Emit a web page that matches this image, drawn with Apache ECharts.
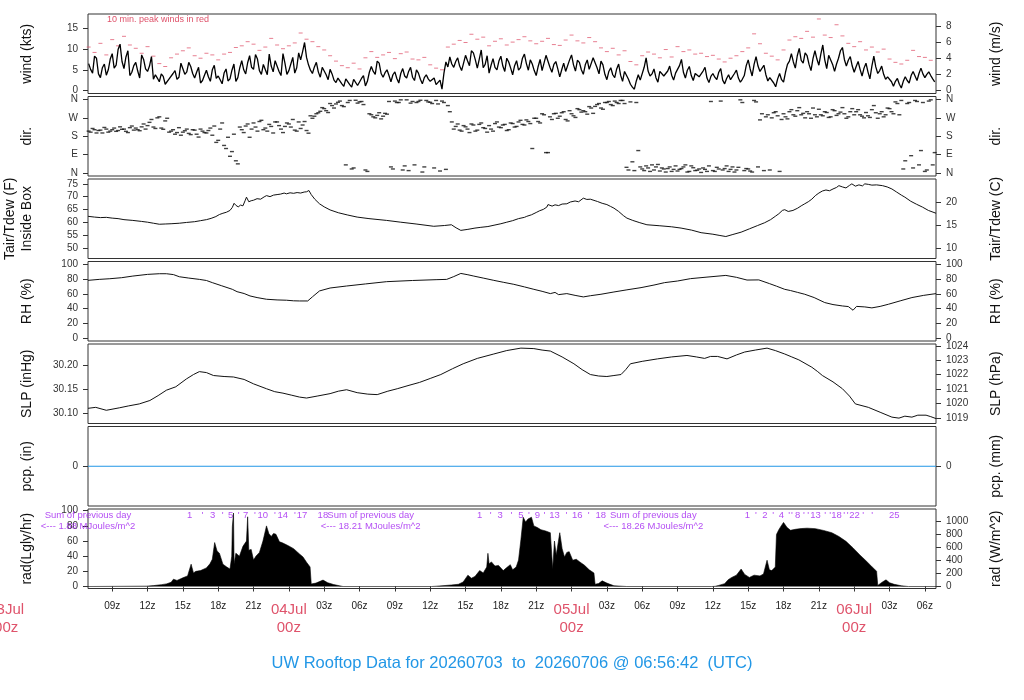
<!DOCTYPE html>
<html><head><meta charset="utf-8">
<script src="https://cdn.jsdelivr.net/npm/echarts@6/dist/echarts.min.js"></script>
<style>html,body{margin:0;padding:0;background:#fff}#c{width:1024px;height:700px}</style>
</head><body><div id="c"></div>
<script>
// ---- time frame (hours since 2026-07-03 00z) ----
const startHour = 6.945, endHour = 78.945;
const windStart = 7, windStep = 1/3, windMidOffset = 1/6;
const windKts = [
6.5,4.2,7.8, 3.1,6.4,5.0, 8.9,6.1,11.2, 5.3,9.6,4.4, 6.8,3.0,7.5, 4.6,8.2,3.8,
2.1,3.4,1.2, 2.6,4.8,3.2, 6.3,4.5,5.8, 3.0,5.6,2.4, 4.9,2.2,6.1, 3.5,1.6,5.2,
2.8,6.4,3.1, 7.2,4.0,8.4, 5.1,7.6,3.9, 6.0,8.8,4.5, 7.1,3.6,6.6, 4.8,8.0,5.5,
7.4,11.6,6.2, 4.1,6.8,3.2, 5.4,2.6,4.0, 1.9,3.3,1.0, 2.4,0.8,3.0, 1.5,3.6,2.2,
5.8,3.9,6.6, 3.2,5.0,2.1, 4.5,1.8,5.3, 3.0,5.6,2.4, 4.2,1.6,3.8, 2.2,3.0,1.1,
0.3,6.9,8.1, 5.6,7.9,4.8, 8.5,6.0,9.1, 5.4,9.8,6.3, 4.2,7.7,5.0, 8.3,4.6,6.9,
3.8,7.2,5.5, 8.8,4.9,6.4, 3.6,7.5,5.2, 8.1,4.4,7.0, 3.3,6.6,5.0, 8.6,4.7,6.8,
3.9,7.4,5.3, 8.3,4.0,6.2, 2.6,5.5,3.1, 6.4,2.2,4.6, 1.5,0.3,3.8, 2.4,7.9,3.5,
5.2,2.0,4.8, 3.1,5.9,2.5, 4.6,7.5,3.0, 5.8,2.4,4.4, 3.2,5.6,1.9, 4.1,2.6,5.3,
1.6,3.8,2.4, 4.9,2.0,3.6, 7.4,3.5,8.2, 4.6,6.1,2.3, 3.4,0.9,4.1, 2.0,6.3,8.9,
5.4,10.2,6.6, 8.4,4.8,9.6, 6.1,11.0,5.3, 8.7,4.6,7.8, 10.4,5.9,8.2, 4.4,7.0,3.5,
6.6,2.8,8.3, 4.1,5.9,2.7, 3.6,1.0,2.9, 0.6,3.3,1.8, 4.6,2.4,5.4, 3.1,4.5,2.8];
const windKtsMid = [
5.1,8.3,4.0, 5.5,3.7,7.6, 5.4,9.9,7.0, 8.1,3.6,6.0, 4.7,8.6,5.2, 5.9,2.7,3.0,
4.0,1.5,2.8, 4.1,2.7,6.6, 3.9,6.8,4.1, 4.4,1.8,3.7, 3.3,5.0,2.9, 2.6,4.2,2.3,
4.9,2.2,5.5, 5.0,6.7,5.6, 8.7,4.8,6.3, 3.8,5.9,7.2, 4.6,8.9,3.9, 6.4,4.2,9.1,
9.4,8.0,4.9, 5.7,4.5,5.6, 3.8,5.1,2.5, 3.0,1.6,2.8, 1.4,2.7,1.2, 2.9,1.1,4.4,
4.6,7.1,4.1, 4.3,3.6,3.8, 2.9,4.1,3.5, 4.6,3.2,5.0, 2.7,3.1,2.8, 1.8,1.4,2.5,
4.2,5.7,6.4, 7.0,5.9,6.6, 7.2,9.6,7.4, 7.6,5.5,8.4, 6.1,5.6,7.1, 5.9,7.8,5.4,
6.0,4.9,7.8, 6.5,7.4,4.8, 5.8,4.8,8.5, 5.6,6.3,5.2, 5.0,4.6,7.4, 6.2,7.3,5.0,
6.2,5.1,7.9, 5.5,7.1,3.9, 4.6,3.8,5.2, 3.7,4.6,2.7, 0.8,2.3,2.5, 5.6,4.7,4.0,
3.1,4.6,3.5, 4.7,3.7,4.2, 6.0,4.4,4.9, 3.6,4.1,3.3, 4.7,3.0,3.4, 3.2,4.4,2.5,
2.9,2.6,4.1, 3.0,2.7,6.0, 5.2,6.3,5.9, 5.0,3.8,3.1, 1.8,2.8,2.6, 4.4,7.1,6.9,
8.4,7.3,9.1, 6.3,7.7,7.6, 8.8,7.4,8.5, 6.3,6.4,9.6, 7.5,7.3,5.9, 5.8,5.1,5.4,
4.5,5.9,5.7, 4.8,3.9,3.3, 2.1,2.2,1.5, 2.2,2.4,3.6, 3.5,4.1,4.0, 3.9,3.6,2.1];
const gustStart = 7, gustStep = 0.5;
const gustKts = [
10.5,9.2, 11.4,8.6, 12.3,10.8, 13.1,11.0, 10.2,9.0, 10.6,8.3, 6.5,5.8, 7.9,8.8,
9.6,10.3, 8.4,7.8, 9.0,8.6, 7.4,8.8, 9.2,10.4, 10.8,11.8, 11.2,9.7, 10.5,12.6,
11.0,10.1, 10.8,11.5, 13.9,12.4, 11.8,10.6, 9.8,8.4, 7.1,6.0, 5.5,6.6, 5.2,7.9,
9.4,8.0, 8.6,9.2, 7.7,8.9, 9.3,7.6, 7.4,8.0, 6.2,5.4, 5.0,10.5, 11.2,12.1,
11.6,13.6, 12.4,12.9, 10.8,11.9, 12.5,11.0, 11.7,12.3, 13.0,12.0, 11.3,11.9, 12.6,11.1,
10.9,12.2, 13.4,12.0, 11.5,12.8, 11.8,10.3, 9.4,10.2, 8.6,9.6, 7.0,6.2, 8.4,9.3,
8.8,7.9, 9.9,8.1, 10.6,9.4, 9.8,8.8, 9.0,8.2, 8.5,7.6, 6.9,7.8, 8.4,9.4,
10.3,13.7, 11.3,9.0, 8.3,7.4, 9.8,12.2, 13.0,12.6, 14.3,12.9, 17.3,13.4, 12.8,15.9,
13.2,11.4, 10.6,11.8, 9.8,10.5, 9.3,10.0, 7.6,6.8, 6.4,7.3, 9.7,8.2, 8.0,7.3];
const dirDeg = [
205,218,196, 210,223,200, 212,204,226, 215,198,230, 220,207,240, 232,262,218,
275,214,268, 205,190,222, 200,215,188, 210,176,205, 196,220,230, 160,245,120,
82,190,45, 212,230,175, 245,205,258, 220,238,196, 250,215,228, 240,262,205,
218,252,195, 268,290,302, 315,296,330, 338,352,325, 345,20,356, 348,335,8,
285,270,295, 278,288,30, 352,345,15, 358,342,40, 350,5,355, 346,25,338,
352,18,300, 215,240,205, 226,198,235, 210,245,218, 232,205,250, 222,238,212,
242,228,258, 235,252,120, 268,245,285, 100,262,292, 278,300,255, 290,272,310,
305,288,318, 326,340,312, 345,335,352, 340,355,28, 348,12,110, 20,35,8,
15,42,25, 5,30,18, 10,22,40, 8,26,14, 3,18,35, 12,28,352,
22,8,30, 15,358,12, 20,5,348, 260,12,285, 270,300,8, 290,265,310,
278,320,292, 300,268,285, 312,280,296, 275,305,290, 320,268,300, 285,310,278,
296,272,330, 268,300,285, 315,290,340, 355,60,345, 25,350,110, 8,352,40];
const dirDegMid = [
200,212,208, 196,215,205, 220,208,214, 204,222,210, 212,226,215, 248,225,270,
220,255,200, 212,198,185, 207,194,212, 190,215,198, 208,185,150, 215,135,175,
105,60,225, 198,240,215, 225,252,212, 205,228,250, 232,198,245, 225,210,250,
235,208,280, 278,295,320, 305,340,318, 346,330,40, 355,25,342, 350,15,290,
275,282,265, 292,350,20, 345,358,35, 12,350,345, 356,30,348, 340,355,10,
345,330,250, 228,210,232, 215,240,205, 238,222,200, 215,242,225, 235,208,245,
225,250,238, 260,242,268, 252,290,100, 275,290,268, 295,262,305, 280,315,298,
300,325,292, 335,318,345, 350,330,345, 355,340,15, 55,345,30, 12,25,40,
30,10,20, 22,8,35, 18,30,5, 35,12,20, 25,8,350, 8,20,15,
35,18,5, 28,345,22, 10,355,30, 290,275,15, 295,280,262, 275,300,285,
305,285,270, 290,318,275, 285,300,272, 310,282,298, 290,275,315, 300,285,270,
280,310,295, 290,275,318, 300,348,285, 20,340,85, 355,40,345, 15,358,100];
const tairF = [[6.95,62.3],[7.5,62.0],[8,61.8],[8.5,61.9],[9,61.6],[9.5,61.4],[10,61.0],[10.75,60.7],[11.5,60.3],[12,60.0],[12.5,59.6],[13,59.2],[13.5,59.3],[14,59.4],[14.7,59.6],[15.3,59.9],[16,60.2],[16.5,60.6],[17,61.0],[17.4,61.5],[17.8,62.2],[18.1,63.0],[18.4,63.5],[18.7,63.9],[19.0,64.6],[19.2,65.8],[19.35,67.4],[19.5,66.6],[19.7,66.0],[19.9,66.7],[20.1,66.4],[20.3,68.6],[20.4,69.8],[20.6,68.0],[20.8,68.4],[21.0,68.6],[21.3,69.2],[21.6,69.0],[21.9,69.9],[22.1,70.4],[22.4,70.0],[22.7,70.6],[23.0,70.8],[23.3,71.0],[23.6,71.4],[23.8,71.1],[24.1,71.5],[24.4,71.3],[24.7,71.6],[25.0,71.4],[25.3,71.8],[25.5,71.9],[25.7,72.4],[25.9,70.8],[26.2,69.0],[26.6,67.2],[27.0,66.0],[27.5,64.8],[28.2,63.7],[29.0,62.8],[29.8,62.0],[30.8,61.4],[32.3,60.7],[33.5,60.0],[34.8,59.3],[36.3,58.4],[37.2,58.7],[37.8,59.0],[38.2,57.8],[38.6,56.8],[39.2,57.2],[39.8,57.7],[40.3,58.0],[40.9,58.3],[41.5,58.9],[42.0,59.4],[42.5,60.0],[43.0,60.6],[43.5,61.4],[44.0,61.9],[44.2,62.3],[44.6,62.9],[45.0,63.8],[45.3,64.5],[45.6,65.0],[45.9,65.9],[46.0,66.9],[46.15,67.6],[46.35,66.3],[46.6,66.8],[46.9,66.5],[47.2,67.1],[47.6,67.2],[47.9,67.9],[48.3,68.3],[48.6,68.0],[49.0,69.4],[49.3,68.9],[49.6,69.0],[50.0,68.4],[50.2,68.1],[50.6,67.4],[51.0,66.9],[51.3,66.2],[51.6,65.5],[52.0,64.2],[52.4,62.6],[52.7,61.6],[53.2,60.7],[53.8,59.8],[54.4,59.0],[55.5,58.6],[56.5,58.2],[57.3,57.7],[58.2,56.9],[59.0,55.9],[60.0,55.3],[60.6,54.8],[61.1,54.4],[61.7,55.2],[62.4,56.1],[63.1,57.4],[63.8,58.7],[64.4,59.8],[64.9,61.0],[65.3,62.3],[65.6,63.3],[65.9,64.6],[66.1,64.9],[66.4,64.2],[66.8,64.6],[67.2,65.5],[67.5,66.4],[67.8,67.2],[68.1,68.0],[68.4,69.0],[68.7,70.4],[69.0,71.4],[69.3,72.2],[69.6,72.6],[69.9,72.3],[70.2,73.0],[70.5,73.6],[70.7,74.3],[71.0,73.8],[71.3,73.4],[71.6,74.4],[71.8,75.0],[72.1,74.1],[72.4,74.6],[72.7,74.2],[72.9,75.0],[73.2,74.8],[73.5,74.5],[73.9,74.6],[74.4,74.3],[74.8,73.8],[75.2,73.0],[75.6,71.8],[76.0,70.6],[76.3,69.8],[76.8,68.2],[77.3,67.0],[77.8,65.9],[78.3,64.6],[78.95,63.5]];
const rhPct = [[6.95,78.4],[7.9,79.7],[8.8,80.6],[9.8,82.0],[10.75,84.2],[12,86.5],[13,87.4],[13.6,87.4],[14.2,86.2],[14.7,83.3],[15.5,81.5],[16.4,79.7],[17.0,78.2],[17.5,75.3],[18.3,71.0],[19.2,66.2],[19.6,63.0],[20.2,60.5],[20.7,57.2],[21.3,55.0],[22.1,52.7],[23.0,51.8],[23.8,51.4],[24.4,50.6],[24.9,50.4],[25.6,50.4],[26.0,56.0],[26.6,64.0],[27.5,68.0],[28.9,70.7],[30.5,73.5],[32.3,76.6],[34.5,78.2],[36.5,79.3],[37.4,79.7],[38.0,83.5],[38.6,87.8],[39.2,86.0],[39.7,84.2],[40.5,81.5],[41.4,78.4],[42.2,75.8],[43.1,73.0],[44.0,69.5],[44.8,66.2],[45.5,63.5],[46.2,60.4],[46.6,62.0],[46.9,59.0],[47.6,60.4],[48.3,58.0],[49.0,55.9],[49.6,57.5],[50.5,59.5],[51.6,62.6],[52.7,65.5],[53.9,68.5],[55.0,72.0],[55.9,75.3],[57.0,77.5],[58.1,80.7],[59.5,82.8],[61.1,85.1],[62.0,82.5],[62.9,78.8],[63.9,79.0],[64.8,74.0],[65.4,70.5],[66.1,66.2],[66.6,64.5],[67.2,62.0],[67.8,59.5],[68.6,55.0],[69.5,48.2],[70.2,45.5],[71.0,43.6],[71.5,42.8],[71.9,37.8],[72.2,43.0],[72.9,42.3],[73.5,41.0],[74.2,43.0],[74.9,45.9],[75.9,50.5],[76.9,55.0],[77.9,58.0],[78.95,60.4]];
const slpInHg = [[6.95,30.111],[7.6,30.113],[8.5,30.107],[9.6,30.112],[10.4,30.116],[11.3,30.120],[12.2,30.127],[12.9,30.137],[13.6,30.148],[14.4,30.155],[15.3,30.171],[15.9,30.180],[16.4,30.186],[17.0,30.184],[17.6,30.178],[18.5,30.176],[19.3,30.175],[20.2,30.170],[21.0,30.161],[22.1,30.151],[22.8,30.145],[23.5,30.142],[24.2,30.138],[24.9,30.134],[25.5,30.132],[26.4,30.136],[27.5,30.141],[28.2,30.146],[28.9,30.149],[29.8,30.143],[30.7,30.140],[31.5,30.139],[32.4,30.146],[33.2,30.151],[34.2,30.158],[35.1,30.164],[36.0,30.172],[36.9,30.180],[37.9,30.192],[38.8,30.202],[40.0,30.213],[41.4,30.222],[42.5,30.229],[43.7,30.234],[44.8,30.233],[45.5,30.230],[46.2,30.228],[47.2,30.216],[48.2,30.202],[48.9,30.190],[49.6,30.180],[50.3,30.177],[51.0,30.176],[51.6,30.178],[52.2,30.180],[52.6,30.190],[53.0,30.202],[54.0,30.207],[55.3,30.212],[56.5,30.216],[57.8,30.219],[58.6,30.216],[59.3,30.213],[59.8,30.217],[60.4,30.217],[61.2,30.212],[62.0,30.220],[62.7,30.226],[63.6,30.230],[64.6,30.234],[65.3,30.229],[66.1,30.222],[66.7,30.216],[67.3,30.210],[68.4,30.195],[68.9,30.186],[69.3,30.178],[70.2,30.165],[71.0,30.151],[71.6,30.136],[72.1,30.120],[73.2,30.113],[74.2,30.103],[75.2,30.093],[75.8,30.091],[76.3,30.095],[76.9,30.093],[77.4,30.097],[78.1,30.097],[78.5,30.094],[78.95,30.090]];
const pcpIn = [[6.945,0],[78.945,0]];
const radLgly = [[6.945,0],[11.9,0.5],[12.5,1.2],[13.2,2.5],[13.6,3.5],[14.0,5.5],[14.2,9.7],[14.5,8.0],[15.0,11.5],[15.4,14],[15.7,29.5],[15.9,18],[16.1,20],[16.5,21],[17.0,24.6],[17.3,30],[17.5,36],[17.7,58],[17.9,47],[18.1,44],[18.4,29.5],[18.7,26],[19.0,23],[19.15,40],[19.2,79],[19.3,97],[19.35,30],[19.5,44],[19.8,40],[20.1,53],[20.4,60],[20.5,92],[20.6,48],[20.8,49],[21.0,35],[21.2,40],[21.5,45],[21.8,60],[22.1,80],[22.3,70],[22.5,66],[22.7,70],[22.9,69],[23.2,59],[23.4,58],[23.8,55],[24.1,52.6],[24.4,50],[24.9,43],[25.2,39],[25.5,32],[25.8,25.8],[25.9,3.4],[26.3,4.5],[26.9,8.5],[27.3,5],[27.8,2.6],[28.3,1],[28.6,0],
[36.1,0],[36.5,0.4],[37.0,1.0],[37.8,2],[38.4,3],[38.8,6],[39.2,15],[39.5,11],[39.8,13.3],[40.2,21],[40.5,18],[40.8,25.7],[40.9,43.8],[41.0,30],[41.2,32.5],[41.5,27],[41.8,27.9],[42.2,21],[42.5,25],[42.8,28.8],[43.0,22],[43.3,25.7],[43.5,35],[43.7,61.8],[43.9,91.4],[44.1,85],[44.3,89],[44.6,91.4],[44.8,80],[45.1,77.8],[45.4,75],[45.8,73.3],[46.2,71],[46.4,23],[46.55,60],[46.7,41.4],[47.0,71],[47.2,50],[47.4,39],[47.6,45],[47.8,46],[48.1,34.7],[48.4,36],[48.7,32.5],[49.1,28],[49.5,22],[49.9,17.9],[50.0,3],[50.3,4],[50.6,7.5],[51.0,4.5],[51.6,1],[52.7,0],
[59.9,0],[60.2,0.3],[60.5,1.5],[61.0,3.8],[61.3,9],[61.6,12],[62.0,15],[62.4,23],[62.7,16],[63.1,12],[63.5,15],[64.0,14],[64.3,16.6],[64.6,34.7],[64.8,22],[65.0,21],[65.3,25.7],[65.4,68.7],[65.6,75],[65.8,80],[66.0,84.6],[66.3,77.8],[66.6,74.2],[67.0,75.5],[67.5,76.5],[68.0,77],[68.7,76.4],[69.4,74],[70.1,71],[70.7,66],[71.3,59.6],[71.9,51],[72.5,41.4],[73.0,34],[73.4,27.9],[73.9,20.1],[74.0,1.5],[74.4,6],[74.7,8.8],[75.0,5],[75.4,2.9],[76.0,1],[76.6,0],[78.945,0]];
const xTickHours = [9,12,15,18,21,24,27,30,33,36,39,42,45,48,51,54,57,60,63,66,69,72,75,78];
const dateLabels = {0:'03Jul',24:'04Jul',48:'05Jul',72:'06Jul'};
const radSumTitles = [[6.945,'Sum of previous day'],[30.945,'Sum of previous day'],[54.945,'Sum of previous day']];
const radSumValues = [[6.945,'<--- 1.88 MJoules/m^2'],[30.945,'<--- 18.21 MJoules/m^2'],[54.945,'<--- 18.26 MJoules/m^2']];
const radHourMarks = [[15.57,'1'],[16.66,"'"],[17.53,'3'],[18.38,"'"],[19.06,'5'],[19.74,"'"],[20.34,'7'],[21.11,"'"],[21.79,'10'],[22.81,"'"],[23.49,'14'],[24.51,"'"],[25.11,'17'],[26.89,'18'],
[40.2,'1'],[41.13,"'"],[41.93,'3'],[42.89,"'"],[43.69,'5'],[44.37,"'"],[45.1,'9'],[45.7,"'"],[46.56,'13'],[47.57,"'"],[48.48,'16'],[49.45,"'"],[50.49,'18'],
[62.94,'1'],[63.66,"'"],[64.41,'2'],[65.11,"'"],[65.81,'4'],[66.47,"'"],[66.72,"'"],[67.2,'8'],[67.74,"'"],[68.09,"'"],[68.72,'13'],[69.53,"'"],[69.96,"'"],[70.49,'18'],[71.15,"'"],[71.45,"'"],[72.03,'22'],[72.77,"'"],[73.53,"'"],[75.41,'25']];

// ---- layout / style ----
const FONT = '"Liberation Sans", Arial, Helvetica, sans-serif';
const RED = '#DF536B', BLUE = '#2297E6', PURPLE = '#A020F0';
const gLeft = 88, gWidth = 848, gTop0 = 14, gStep = 82.5, gH = 79.5;
const nP = 7;
const grids = [];
for (let i = 0; i < nP; i++) grids.push({left: gLeft, top: gTop0 + i*gStep, width: gWidth, height: gH, show: true,
  borderColor: '#333', borderWidth: 1, backgroundColor: '#fff', containLabel: false, outerBoundsMode: 'none'});

const KT2MS = 0.514444, INHG2HPA = 33.8639, LGLY2WM2 = 11.622;
const toC = f => (f - 32) * 5 / 9;
const pad2 = n => (n < 10 ? '0' : '') + n;
const compass = v => ({0:'N',90:'E',180:'S',270:'W',360:'N'})[v];

const panels = [
  {min:-0.74, max:18.5, vals:[0,5,10,15], fmt:v=>String(v), name:'wind (kts)',
   r:{min:-0.74*KT2MS, max:18.5*KT2MS, vals:[0,2,4,6,8], fmt:v=>String(v), name:'wind (m/s)'}},
  {min:-14.4, max:374.4, vals:[0,90,180,270,360], fmt:compass, name:'dir.',
   r:{min:-14.4, max:374.4, vals:[0,90,180,270,360], fmt:compass, name:'dir.'}},
  {min:45.8, max:76.9, vals:[50,55,60,65,70,75], fmt:v=>String(v), name:'Tair/Tdew (F)\nInside Box',
   r:{min:toC(45.8), max:toC(76.9), vals:[10,15,20], fmt:v=>String(v), name:'Tair/Tdew (C)'}},
  {min:-4, max:104, vals:[0,20,40,60,80,100], fmt:v=>String(v), name:'RH (%)',
   r:{min:-4, max:104, vals:[0,20,40,60,80,100], fmt:v=>String(v), name:'RH (%)'}},
  {min:30.080, max:30.2424, vals:[30.10,30.15,30.20], fmt:v=>v.toFixed(2), name:'SLP (inHg)',
   r:{min:30.080*INHG2HPA, max:30.2424*INHG2HPA, vals:[1019,1020,1021,1022,1023,1024], fmt:v=>String(v), name:'SLP (hPa)'}},
  {min:-1, max:1, vals:[0], fmt:v=>String(v), name:'pcp. (in)',
   r:{min:-1, max:1, vals:[0], fmt:v=>String(v), name:'pcp. (mm)'}},
  {min:-2.6, max:102.3, vals:[0,20,40,60,80,100], fmt:v=>String(v), name:'rad(Lgly/hr)',
   r:{min:-2.6*LGLY2WM2, max:102.3*LGLY2WM2, vals:[0,200,400,600,800,1000], fmt:v=>String(v), name:'rad (W/m^2)'}}
];

function yAxisDef(i, p, side) {
  return {
    type: 'value', gridIndex: i, position: side, min: p.min, max: p.max,
    splitLine: {show: false},
    axisLine: {show: false},
    axisTick: {show: true, customValues: p.vals, length: 5, inside: false, lineStyle: {color: '#333', width: 1}},
    axisLabel: {show: true, customValues: p.vals, formatter: p.fmt, margin: 10, fontSize: 10, color: '#333', fontFamily: FONT},
    name: p.name, nameLocation: 'middle', nameRotate: 90, nameGap: 52,
    nameTextStyle: {fontSize: 14, color: '#111', fontFamily: FONT, lineHeight: 17}
  };
}
const yAxes = [];
panels.forEach((p, i) => yAxes.push(yAxisDef(i, p, 'left')));
panels.forEach((p, i) => yAxes.push(yAxisDef(i, p.r, 'right')));

const xAxes = [];
for (let i = 0; i < nP; i++) {
  const last = i === nP - 1;
  xAxes.push({
    type: 'value', gridIndex: i, min: startHour, max: endHour,
    splitLine: {show: false}, axisLine: {show: false},
    axisTick: {show: last, customValues: xTickHours, length: 5, lineStyle: {color: '#333'}},
    axisLabel: {show: last, customValues: xTickHours, margin: 12, fontSize: 10, color: '#222', fontFamily: FONT, lineHeight: 11,
      formatter: v => (v % 24 === 0) ? '{d|' + dateLabels[v] + '}\n{d|00z}' : pad2(v % 24) + 'z',
      rich: {d: {fontSize: 15, color: RED, lineHeight: 18, fontFamily: FONT}}}
  });
}

// interleave the 20-min samples with the mid-slot samples
const windSeries = [], dirSeries = [];
windKts.forEach((v, i) => {
  windSeries.push([windStart + i*windStep, v]);
  windSeries.push([windStart + i*windStep + windMidOffset, windKtsMid[i]]);
  dirSeries.push([windStart + i*windStep, dirDeg[i]]);
  dirSeries.push([windStart + i*windStep + windMidOffset, dirDegMid[i]]);
});

const lineBase = {type: 'line', symbol: 'none', animation: false, lineStyle: {color: '#111', width: 1}};
const textScatter = (data, yv, color, size) => ({
  type: 'scatter', xAxisIndex: 6, yAxisIndex: 6, symbolSize: 1, itemStyle: {color: 'rgba(0,0,0,0)'},
  clip: false, silent: true,
  data: data.map(d => [d[0], yv, d[1]]),
  label: {show: true, position: 'inside', formatter: p => p.data[2], color: color, fontSize: size, fontFamily: FONT}
});

const series = [
  Object.assign({}, lineBase, {xAxisIndex: 0, yAxisIndex: 0, data: windSeries, lineStyle: {color: '#000', width: 1.3}}),
  {type: 'scatter', xAxisIndex: 0, yAxisIndex: 0, symbol: 'rect', symbolSize: [4, 1], itemStyle: {color: RED, opacity: 0.75},
   data: gustKts.map((v, i) => [gustStart + i*gustStep, v])},
  {type: 'scatter', xAxisIndex: 1, yAxisIndex: 1, symbol: 'rect', symbolSize: [4, 1.4], itemStyle: {color: '#111'},
   data: dirSeries},
  Object.assign({}, lineBase, {xAxisIndex: 2, yAxisIndex: 2, data: tairF}),
  Object.assign({}, lineBase, {xAxisIndex: 3, yAxisIndex: 3, data: rhPct}),
  Object.assign({}, lineBase, {xAxisIndex: 4, yAxisIndex: 4, data: slpInHg}),
  Object.assign({}, lineBase, {xAxisIndex: 5, yAxisIndex: 5, data: pcpIn, lineStyle: {color: BLUE, width: 1}}),
  Object.assign({}, lineBase, {xAxisIndex: 6, yAxisIndex: 6, data: radLgly, lineStyle: {color: '#000', width: 0.6},
    areaStyle: {color: '#000', opacity: 1}}),
  textScatter(radSumTitles, 94.3, PURPLE, 9.5),
  textScatter(radSumValues, 79.8, PURPLE, 9.5),
  textScatter(radHourMarks, 94.3, PURPLE, 9.5)
];

const chart = echarts.init(document.getElementById('c'), null, {renderer: 'canvas'});
chart.setOption({
  animation: false,
  backgroundColor: '#fff',
  title: {text: 'UW Rooftop Data for 20260703  to  20260706 @ 06:56:42  (UTC)', left: 'center', top: 650,
    textStyle: {color: BLUE, fontSize: 16.5, fontWeight: 'normal', fontFamily: FONT}},
  grid: grids, xAxis: xAxes, yAxis: yAxes, series: series,
  graphic: [{id: 'peakNote', type: 'text', left: 107, top: 15, style: {text: '10 min. peak winds in red', fill: RED, font: '9px ' + FONT}}]
});
const x0 = chart.convertToPixel({xAxisIndex: 6}, 0);
const yb = grids[6].top + grids[6].height + 12;
chart.setOption({graphic: [{id: 'day0', type: 'text', x: x0, y: yb,
  style: {text: dateLabels[0] + '\n00z', fill: RED, font: '15px ' + FONT, lineHeight: 18, align: 'center', verticalAlign: 'top'}}]});
</script></body></html>
